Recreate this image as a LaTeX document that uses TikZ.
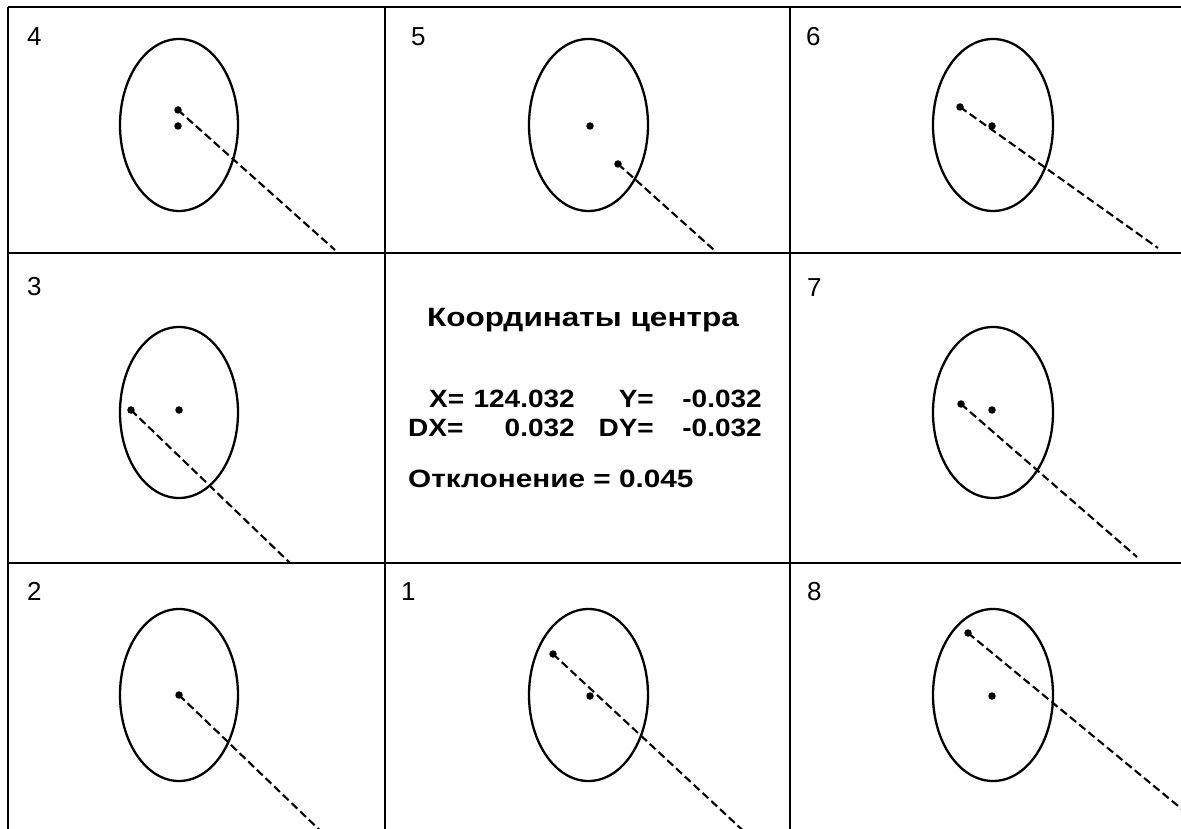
\documentclass[tikz,border=0pt]{standalone}
\usepackage{fontspec}
\setmainfont{Liberation Sans}
\newfontfamily\pixfont[FakeStretch=1.12]{Liberation Sans}
\newfontfamily\widefont[FakeStretch=1.19]{Liberation Sans}
\begin{document}
\begin{tikzpicture}[x=1pt,y=-1pt,
  gridline/.style={line width=2.5pt},
  oval/.style={line width=2.3pt},
  dotn/.style={circle,fill=black,inner sep=0pt,minimum size=7.5pt},
  ray/.style={line width=2.1pt,dash pattern=on 8pt off 4pt},
  lbl/.style={anchor=north west,inner sep=0pt,font=\fontsize{26}{26}\selectfont},
  info/.style={inner sep=0pt,font=\pixfont\bfseries\fontsize{25}{25}\selectfont},
  wideinfo/.style={inner sep=0pt,font=\widefont\bfseries\fontsize{25}{25}\selectfont},
  title/.style={inner sep=0pt,font=\widefont\bfseries\fontsize{26.5}{26.5}\selectfont}]
\useasboundingbox (0,0) rectangle (1181,829);
\fill[white] (0,0) rectangle (1181,829);
\clip (0,0) rectangle (1181,829);
% grid
\draw[gridline] (8,7) -- (1185,7);
\draw[gridline] (8,7) -- (8,835);
\draw[gridline] (385,7) -- (385,835);
\draw[gridline] (790,7) -- (790,835);
\draw[gridline] (8,253) -- (1185,253);
\draw[gridline] (8,563) -- (1185,563);
% labels
\node[lbl] (l4) at (27,27) {4};
\node[lbl] (l5) at (411,27) {5};
\node[lbl] (l6) at (806,27) {6};
\node[lbl] (l3) at (27,277) {3};
\node[lbl] (l7) at (807,278) {7};
\node[lbl] (l2) at (27,582) {2};
\node[lbl] (l1) at (401,582) {1};
\node[lbl] (l8) at (807,582) {8};
% ellipses
\draw[oval] (179,125) ellipse [x radius=59pt, y radius=86pt];
\draw[oval] (588.5,125) ellipse [x radius=59.5pt, y radius=86pt];
\draw[oval] (993,125) ellipse [x radius=60pt, y radius=86pt];
\draw[oval] (179,412.5) ellipse [x radius=59pt, y radius=85.5pt];
\draw[oval] (993,412.5) ellipse [x radius=60pt, y radius=85.5pt];
\draw[oval] (179,695) ellipse [x radius=59pt, y radius=86pt];
\draw[oval] (588.5,695) ellipse [x radius=59.5pt, y radius=86pt];
\draw[oval] (993,695) ellipse [x radius=60pt, y radius=86pt];
% dots
\node[dotn] (c4) at (178,126) {};
\node[dotn] (d4) at (178,110) {};
\node[dotn] (c5) at (590,126) {};
\node[dotn] (d5) at (618,164) {};
\node[dotn] (c6) at (992,126) {};
\node[dotn] (d6) at (960,107) {};
\node[dotn] (c3) at (179,410) {};
\node[dotn] (d3) at (131,410) {};
\node[dotn] (c7) at (992,410) {};
\node[dotn] (d7) at (961,404) {};
\node[dotn] (c2) at (179,695) {};
\node[dotn] (c1) at (590,696) {};
\node[dotn] (d1) at (553,654) {};
\node[dotn] (c8) at (992,696) {};
\node[dotn] (d8) at (968,633) {};
% ray ends
\coordinate (e4) at (335,250);
\coordinate (e5) at (714,250);
\coordinate (e6) at (1158,248);
\coordinate (e3) at (290,563);
\coordinate (e7) at (1137,557);
\coordinate (e2) at (330,840);
\coordinate (e1) at (750,837);
\coordinate (e8) at (1200,824);
\draw[ray] (d4.center) -- (e4);
\draw[ray] (d5.center) -- (e5);
\draw[ray] (d6.center) -- (e6);
\draw[ray] (d3.center) -- (e3);
\draw[ray] (d7.center) -- (e7);
\draw[ray] (c2.center) -- (e2);
\draw[ray] (d1.center) -- (e1);
\draw[ray] (d8.center) -- (e8);
% info text
\node[title,anchor=base] (t0) at (583,326) {Координаты центра};
\node[info,anchor=base west] (tx) at (429,407) {X=};
\node[info,anchor=base east] (vx) at (575,407) {124.032};
\node[info,anchor=base east] (ty) at (654,407) {Y=};
\node[info,anchor=base east] (vy) at (762,407) {-0.032};
\node[info,anchor=base west] (tdx) at (408,436) {DX=};
\node[info,anchor=base east] (vdx) at (575,436) {0.032};
\node[info,anchor=base east] (tdy) at (654,436) {DY=};
\node[info,anchor=base east] (vdy) at (762,436) {-0.032};
\node[wideinfo,anchor=base west] (dev) at (408,487) {Отклонение = 0.045};
\end{tikzpicture}
\end{document}
